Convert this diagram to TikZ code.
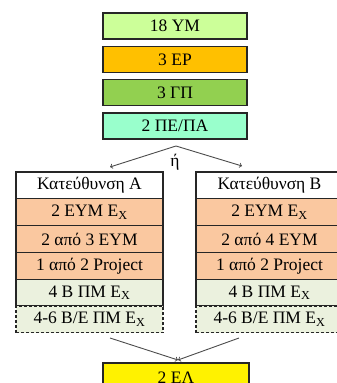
\documentclass[tikz,border=0pt]{standalone}
\usepackage{fontspec}
\setmainfont{Liberation Serif}
\definecolor{ymgreen}{RGB}{204,255,153}
\definecolor{eporange}{RGB}{255,192,0}
\definecolor{gpgreen}{RGB}{146,208,80}
\definecolor{peaqua}{RGB}{153,255,204}
\definecolor{eympeach}{RGB}{250,200,160}
\definecolor{bpmbeige}{RGB}{235,241,222}
\begin{document}
\begin{tikzpicture}[x=1pt, y=-1pt, every node/.style={draw=black!85, line width=1.2pt, minimum width=144pt, minimum height=26pt, inner sep=0pt}, node distance=33.3pt]
            \fontsize{17.5}{20}\selectfont
            \tikzset{row/.style={node distance=26.8pt, minimum width=147pt, minimum height=26.8pt}}
            \useasboundingbox (0,0) rectangle (337,383);
            \node[fill=ymgreen] (ym) at (175,26) {18 ΥΜ};
            \node[fill=eporange] (ep) [below of=ym] {3 ΕΡ};
            \node[fill=gpgreen] (gp) [below of=ep] {3 ΓΠ};
            \node[fill=peaqua] (pe) [below of=gp] {2 ΠΕ/ΠΑ};
            \coordinate (split) at (176,146);
            \node[draw=none, fill=none, minimum width=0pt, minimum height=0pt] (or) at (175,162) {ή};
            
            % Κατεύθυνση A
            \node[row, fill=white] (a1) at (89.5,185.4) {Κατεύθυνση Α};
            \node[row, fill=eympeach] (a2) [below of=a1] {2 ΕΥΜ Ε\textsubscript{X}};
            \node[row, fill=eympeach] (a3) [below of=a2] {2 από 3 ΕΥΜ};
            \node[row, fill=eympeach] (a4) [below of=a3] {1 από 2 Project};
            \node[row, fill=bpmbeige] (a5) [below of=a4] {4 Β ΠΜ Ε\textsubscript{X}};
            \node[row, fill=bpmbeige, densely dashed] (a6) [below of=a5] {4-6 Β/Ε ΠΜ Ε\textsubscript{X}};
            
            % Κατεύθυνση B
            \node[row, fill=white] (b1) at (269.5,185.4) {Κατεύθυνση Β};
            \node[row, fill=eympeach] (b2) [below of=b1] {2 ΕΥΜ Ε\textsubscript{X}};
            \node[row, fill=eympeach] (b3) [below of=b2] {2 από 4 ΕΥΜ};
            \node[row, fill=eympeach] (b4) [below of=b3] {1 από 2 Project};
            \node[row, fill=bpmbeige] (b5) [below of=b4] {4 Β ΠΜ Ε\textsubscript{X}};
            \node[row, fill=bpmbeige, densely dashed] (b6) [below of=b5] {4-6 Β/Ε ΠΜ Ε\textsubscript{X}};
            
            \node[fill=yellow, minimum width=146pt, minimum height=30pt] (el) at (176,378) {2 ΕΛ};
            
            \coordinate (aend) at (110,167);
            \coordinate (bend) at (242,166);
            \coordinate (afrom) at (110,338);
            \coordinate (bfrom) at (239,338);
            \coordinate (elin) at (178,360);
            \draw[line width=0.9pt, black!70, ->] (split) to (aend);
            \draw[line width=0.9pt, black!70, ->] (split) to (bend);
            \draw[line width=0.9pt, black!70, ->] (afrom) to (elin);
            \draw[line width=0.9pt, black!70, ->] (bfrom) to (elin);
            \end{tikzpicture}
\end{document}
